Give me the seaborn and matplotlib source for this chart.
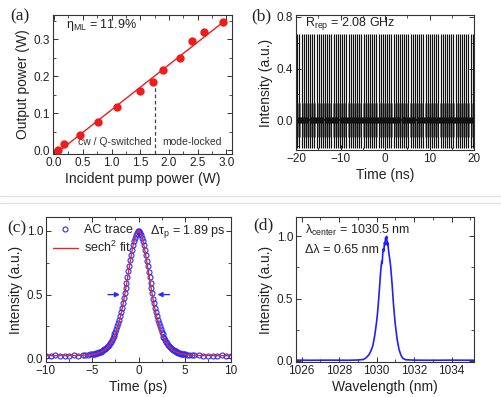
import numpy as np
import matplotlib
matplotlib.use("Agg")
import matplotlib.pyplot as plt
from matplotlib.lines import Line2D
from matplotlib.ticker import MultipleLocator, AutoMinorLocator
import seaborn as sns

# (a) output power vs incident pump power
pump_w = [0.06, 0.17, 0.45, 0.76, 1.09, 1.49, 1.72, 1.90, 2.20, 2.41, 2.62, 2.95]
output_w = [0.002, 0.017, 0.041, 0.075, 0.117, 0.160, 0.183, 0.216, 0.248, 0.294, 0.318, 0.346]
threshold_w = 1.75

# (b) pulse train: repetition rate from the label, levels
rep_rate_ghz = 2.08
pulse_peak = 0.67
pulse_trough = -0.22
ring_amp = 0.13
noise_amp = 0.025

# (c) autocorrelation trace
ac_time_ps = ([-10.0, -9.5, -9.0, -8.5, -8.0, -7.5, -7.0, -6.5, -6.0, -5.75, -5.5, -5.25]
              + [round(-5.0 + 0.1 * i, 1) for i in range(101)]
              + [5.25, 5.5, 5.75, 6.0, 6.5, 7.0, 7.5, 8.0, 8.5, 9.0, 9.5, 10.0])
ac_signal = ([0.021, 0.020, 0.022, 0.020, 0.021, 0.020, 0.022, 0.021, 0.024, 0.025, 0.027, 0.029]
             + [0.031, 0.032, 0.034, 0.035, 0.037, 0.040, 0.042, 0.045, 0.048, 0.051,
                0.055, 0.059, 0.064, 0.069, 0.075, 0.082, 0.090, 0.098, 0.107, 0.118,
                0.129, 0.142, 0.156, 0.171, 0.188, 0.207, 0.228, 0.251, 0.276, 0.302,
                0.331, 0.363, 0.396, 0.432, 0.470, 0.510, 0.551, 0.594, 0.638, 0.683,
                0.727, 0.769, 0.811, 0.851, 0.888, 0.920, 0.948, 0.970, 0.987, 0.997,
                1.000, 0.996, 0.986, 0.969, 0.947, 0.919, 0.887, 0.850, 0.810, 0.768,
                0.725, 0.681, 0.637, 0.593, 0.550, 0.509, 0.469, 0.431, 0.395, 0.362,
                0.330, 0.301, 0.275, 0.250, 0.227, 0.206, 0.187, 0.170, 0.155, 0.141,
                0.128, 0.117, 0.107, 0.097, 0.089, 0.081, 0.074, 0.068, 0.063, 0.058,
                0.054, 0.050, 0.047, 0.044, 0.041, 0.039, 0.036, 0.034, 0.033, 0.031,
                0.030]
             + [0.028, 0.026, 0.025, 0.023, 0.022, 0.021, 0.020, 0.021, 0.020, 0.022, 0.020, 0.021])
dtau_p_ps = 1.89
ac_offset = 0.02

# (d) optical spectrum
wavelength_nm = [1025.7, 1026.5, 1027.5, 1028.5, 1029.0, 1029.3, 1029.45, 1029.6, 1029.7, 1029.8,
                 1029.9, 1030.0, 1030.05, 1030.1, 1030.15, 1030.2, 1030.25, 1030.28, 1030.3, 1030.33,
                 1030.36, 1030.39, 1030.42, 1030.45, 1030.48, 1030.51, 1030.54, 1030.57, 1030.6, 1030.63,
                 1030.66, 1030.7, 1030.75, 1030.8, 1030.85, 1030.9, 1030.95, 1031.0, 1031.1, 1031.2,
                 1031.3, 1031.4, 1031.55, 1032.0, 1033.0, 1034.0, 1035.2]
spectrum = [0.005, 0.004, 0.005, 0.004, 0.006, 0.010, 0.025, 0.050, 0.080, 0.120,
            0.200, 0.310, 0.380, 0.470, 0.570, 0.680, 0.770, 0.800, 0.780, 0.860,
            0.900, 0.880, 0.950, 0.930, 0.990, 0.970, 1.000, 0.930, 0.950, 0.900,
            0.860, 0.820, 0.760, 0.670, 0.570, 0.460, 0.370, 0.290, 0.170, 0.090,
            0.045, 0.020, 0.008, 0.005, 0.004, 0.005, 0.004]

sns.set_theme(style="ticks")
plt.rcParams["font.family"] = ["Liberation Sans", "DejaVu Sans"]
plt.rcParams["mathtext.fontset"] = "custom"
plt.rcParams["mathtext.rm"] = "Liberation Sans"
plt.rcParams["mathtext.it"] = "Liberation Sans:italic"
plt.rcParams["axes.edgecolor"] = "#333333"
plt.rcParams["axes.linewidth"] = 0.8

W, H = 502, 397
fig = plt.figure(figsize=(W / 100, H / 100), dpi=100)


def box(l, r, t, b):
    return [l / W, 1 - b / H, (r - l) / W, (b - t) / H]


ax_a = fig.add_axes(box(53, 232, 15, 154))
ax_b = fig.add_axes(box(296, 474, 15, 150))
ax_c = fig.add_axes(box(46, 231, 217, 362))
ax_d = fig.add_axes(box(296, 474, 217, 362))

for ax in (ax_a, ax_b, ax_c, ax_d):
    ax.tick_params(which="both", direction="in", top=True, right=True,
                   labelsize=8.5, colors="#333333", labelcolor="#222222", pad=2)
    ax.tick_params(which="major", length=3.5, width=0.7)
    ax.tick_params(which="minor", length=2, width=0.6)
    ax.xaxis.set_minor_locator(AutoMinorLocator(2))
    ax.yaxis.set_minor_locator(AutoMinorLocator(2))

label_kw = dict(fontsize=10, color="#222222")

# (a)
red = "#ee1c1c"
slope, icpt = np.polyfit(pump_w, output_w, 1)
fit_x = np.array([min(pump_w) - 0.03, max(pump_w) + 0.02])
sns.lineplot(x=fit_x, y=slope * fit_x + icpt, ax=ax_a, color=red, lw=1.0)
sns.scatterplot(x=pump_w, y=output_w, ax=ax_a, color=red, s=36, edgecolor=red, linewidth=0, zorder=3)
ax_a.vlines(threshold_w, -0.01, 0.17, colors="#444444", linestyles=(0, (3, 2)), lw=0.9)
ax_a.set_xlim(-0.02, 3.1)
ax_a.set_ylim(-0.01, 0.365)
ax_a.xaxis.set_major_locator(MultipleLocator(0.5))
ax_a.yaxis.set_major_locator(MultipleLocator(0.1))
ax_a.set_xlabel("Incident pump power (W)", labelpad=2, **label_kw)
ax_a.set_ylabel("Output power (W)", labelpad=3, **label_kw)
ax_a.text(0.07, 0.93, r"η$_{\mathregular{ML}}$ = 11.9%", transform=ax_a.transAxes,
          fontsize=9, va="center", ha="left", color="#222222")
ax_a.text(1.05, 0.022, "cw / Q-switched", fontsize=7.5, ha="center", va="center", color="#333333")
ax_a.text(2.4, 0.022, "mode-locked", fontsize=7.5, ha="center", va="center", color="#333333")

# (b)
pulse_t = np.arange(-20.2, 20.3, 1 / rep_rate_ghz)
period = 1 / rep_rate_ghz
ax_b.vlines(pulse_t + period / 2, -ring_amp, ring_amp, colors="#666666", lw=0.6)
ax_b.vlines(pulse_t + period / 4, -noise_amp, noise_amp, colors="#111111", lw=0.9)
ax_b.vlines(pulse_t + 3 * period / 4, -noise_amp, noise_amp, colors="#111111", lw=0.9)
ax_b.vlines(pulse_t, pulse_trough, pulse_peak, colors="#111111", lw=0.85)
ax_b.axhline(0, color="#111111", lw=1.2)
ax_b.set_xlim(-20, 20)
ax_b.set_ylim(-0.232, 0.815)
ax_b.xaxis.set_major_locator(MultipleLocator(10))
ax_b.yaxis.set_major_locator(MultipleLocator(0.4))
ax_b.set_xlabel("Time (ns)", labelpad=2, **label_kw)
ax_b.set_ylabel("Intensity (a.u.)", labelpad=3, **label_kw)
ax_b.text(0.05, 0.935, r"R$_{\mathregular{rep}}$ = 2.08 GHz", transform=ax_b.transAxes,
          fontsize=9, va="center", ha="left", color="#222222")

# (c)
blue = "#2b2bff"
t_fit = np.array(ac_time_ps)
tau_ac = 1.543 * dtau_p_ps
sech2_fit = ac_offset + (1 - ac_offset) / np.cosh(1.7627 * t_fit / tau_ac) ** 2
sns.lineplot(x=ac_time_ps, y=ac_signal, ax=ax_c, estimator=None, sort=False, color=blue,
             marker="o", linestyle="", markersize=3.6, markerfacecolor="none",
             markeredgecolor=blue, markeredgewidth=0.8, label="AC trace")
sns.lineplot(x=t_fit, y=sech2_fit, ax=ax_c, estimator=None, sort=False, color="#e02a2a",
             lw=1.0, label=r"sech$^2$ fit")
ax_c.annotate("", xy=(-1.7, 0.5), xytext=(-3.6, 0.5),
              arrowprops=dict(arrowstyle="-|>", color=blue, lw=1.0, mutation_scale=7))
ax_c.annotate("", xy=(1.75, 0.5), xytext=(3.65, 0.5),
              arrowprops=dict(arrowstyle="-|>", color=blue, lw=1.0, mutation_scale=7))
ax_c.set_xlim(-10, 10)
ax_c.set_ylim(-0.03, 1.11)
ax_c.xaxis.set_major_locator(MultipleLocator(5))
ax_c.yaxis.set_major_locator(MultipleLocator(0.5))
ax_c.set_xlabel("Time (ps)", labelpad=2, **label_kw)
ax_c.set_ylabel("Intensity (a.u.)", labelpad=3, **label_kw)
ax_c.legend(loc="upper left", frameon=False, fontsize=9, handlelength=2.0,
            borderaxespad=0.15, labelspacing=0.35, handletextpad=0.5)
ax_c.text(0.97, 0.9, r"Δτ$_{\mathregular{p}}$ = 1.89 ps", transform=ax_c.transAxes,
          fontsize=9, va="center", ha="right", color="#222222")

# (d)
sns.lineplot(x=wavelength_nm, y=spectrum, ax=ax_d, estimator=None, sort=False,
             color="#1f1fff", lw=1.2)
ax_d.set_xlim(1025.7, 1035.2)
ax_d.set_ylim(-0.01, 1.155)
ax_d.xaxis.set_major_locator(MultipleLocator(2))
ax_d.yaxis.set_major_locator(MultipleLocator(0.5))
ax_d.set_xlabel("Wavelength (nm)", labelpad=2, **label_kw)
ax_d.set_ylabel("Intensity (a.u.)", labelpad=3, **label_kw)
ax_d.text(0.05, 0.905, r"λ$_{\mathregular{center}}$ = 1030.5 nm", transform=ax_d.transAxes,
          fontsize=9, va="center", ha="left", color="#222222")
ax_d.text(0.05, 0.775, "Δλ = 0.65 nm", transform=ax_d.transAxes,
          fontsize=9, va="center", ha="left", color="#222222")

# panel letters
for x, y, s in [(10, 16, "(a)"), (251, 16, "(b)"), (7, 228, "(c)"), (253, 225, "(d)")]:
    fig.text(x / W, 1 - y / H, s, family=["Liberation Serif", "DejaVu Serif"],
             fontsize=12.5, va="center", ha="left", color="#222222")

# divider between rows
for y in (196, 203):
    fig.add_artist(Line2D([0, 1], [1 - y / H] * 2, color="#e4e4e4", lw=1.0))

fig.savefig("out.png", dpi=100)
